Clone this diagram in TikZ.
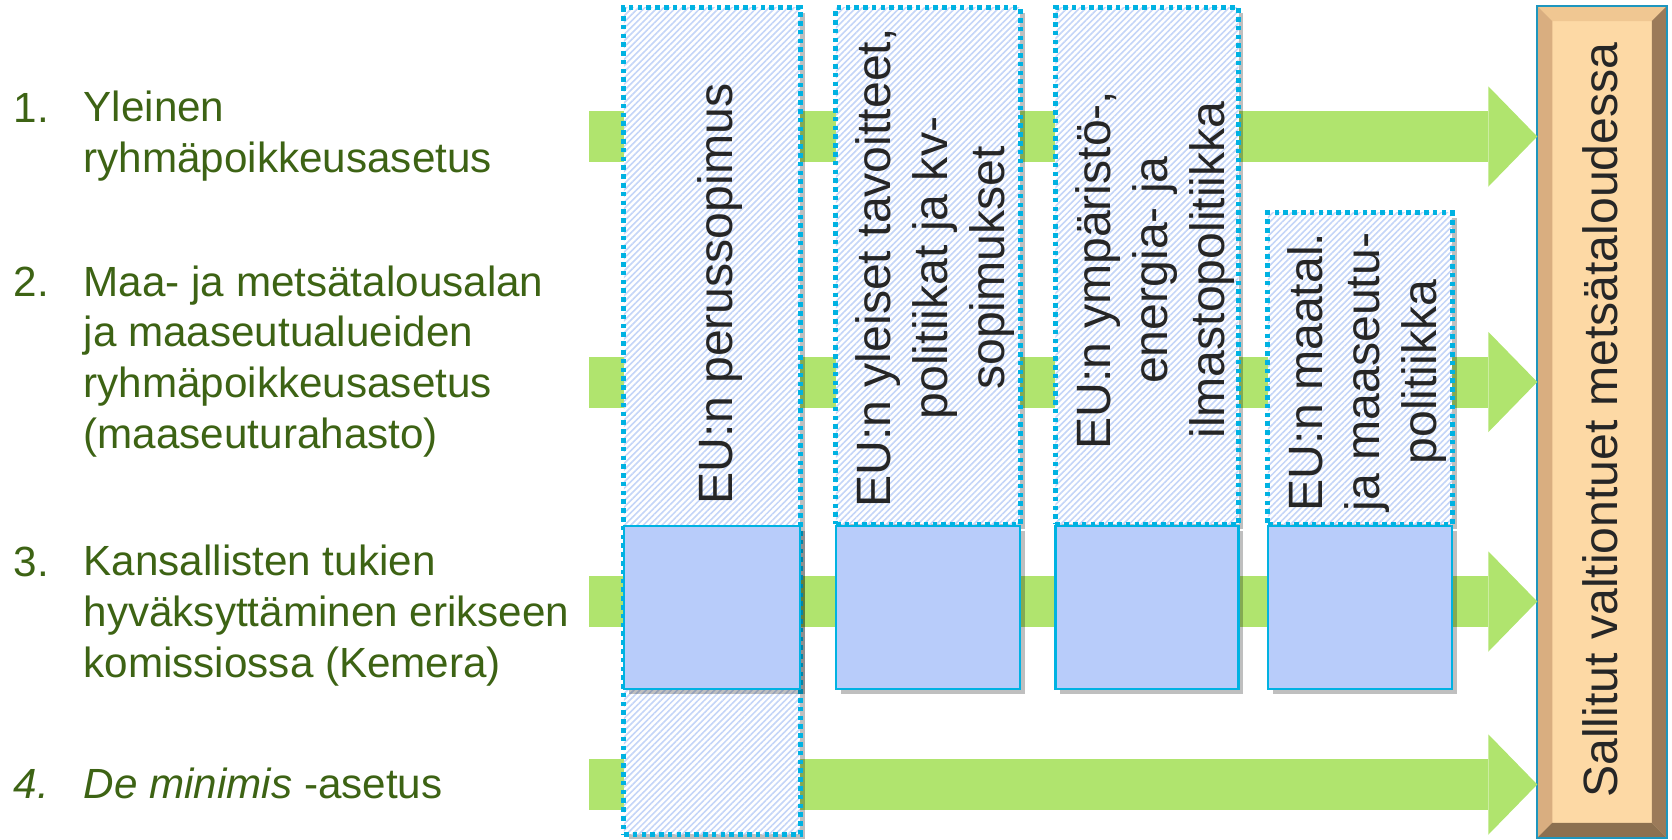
\documentclass[tikz,border=0pt]{standalone}
\usepackage{fontspec}
\setmainfont{Liberation Sans}
\usetikzlibrary{arrows.meta,patterns.meta,shadows}

\definecolor{arrowgreen}{RGB}{176,228,110}
\definecolor{labelgreen}{RGB}{61,99,20}
\definecolor{textgray}{RGB}{38,38,38}
\definecolor{dotcyan}{RGB}{0,178,226}
\definecolor{hatchblue}{RGB}{196,213,248}
\definecolor{boxblue}{RGB}{184,204,250}
\definecolor{woodface}{RGB}{253,217,165}
\definecolor{woodtop}{RGB}{240,199,146}
\definecolor{woodleft}{RGB}{217,174,128}
\definecolor{woodright}{RGB}{155,122,89}
\definecolor{woodbottom}{RGB}{140,112,80}
\definecolor{woodedge}{RGB}{30,150,190}

\tikzset{
  bigarrow/.style={draw=arrowgreen, line width=14.5pt, -{Triangle[length=13.9pt, width=28.5pt, line width=0pt]}},
  colbox/.style={drop shadow={shadow xshift=1.4pt, shadow yshift=-1.4pt, opacity=0.25, fill=black},
    preaction={fill=white}, draw=dotcyan, line width=1.4pt, dash pattern=on 1.3pt off 1.2pt,
    pattern={Lines[angle=45, distance=1.25pt, line width=0.45pt]}, pattern color=hatchblue, inner sep=0pt},
  solidbox/.style={drop shadow={shadow xshift=1.4pt, shadow yshift=-1.4pt, opacity=0.25, fill=black},
    fill=boxblue, draw=dotcyan, line width=0.8pt, minimum height=1.63cm, inner sep=0pt},
  coltext/.style={rotate=90, align=center, text=textgray, font=\fontsize{13.7}{16.2}\selectfont, inner sep=0pt},
  itemnum/.style={anchor=base west, inner sep=0pt, text=labelgreen, font=\fontsize{12}{14.4}\selectfont},
  itemtext/.style={itemnum, align=left}
}

\begin{document}
\begin{tikzpicture}[x=0.01cm, y=-0.01cm]
		\useasboundingbox (0,0) rectangle (1672,839);

		% target box
		\node[fill=woodface, minimum width=1.28cm, minimum height=8.30cm, inner sep=0pt] (allowed) at (1602,422) {};
		\fill[woodtop] (allowed.north west) -- (allowed.north east) -- ([shift={(-15,15)}]allowed.north east) -- ([shift={(15,15)}]allowed.north west) -- cycle;
		\fill[woodleft] (allowed.north west) -- ([shift={(15,15)}]allowed.north west) -- ([shift={(15,-15)}]allowed.south west) -- (allowed.south west) -- cycle;
		\fill[woodright] (allowed.north east) -- ([shift={(-15,15)}]allowed.north east) -- ([shift={(-15,-15)}]allowed.south east) -- (allowed.south east) -- cycle;
		\fill[woodbottom] (allowed.south west) -- ([shift={(15,-15)}]allowed.south west) -- ([shift={(-15,-15)}]allowed.south east) -- (allowed.south east) -- cycle;
		\draw[woodedge, line width=0.6pt] (allowed.north west) rectangle (allowed.south east);
		\node[rotate=90, text=textgray, font=\fontsize{13.7}{16}\selectfont, inner sep=0pt] (allowedtext) at (1600,420) {Sallitut valtiontuet metsätaloudessa};

		% arrows
		\coordinate (s1) at (589,136.5);
		\coordinate (s2) at (589,382);
		\coordinate (s3) at (589,601.5);
		\coordinate (s4) at (589,784.5);
		\draw[bigarrow] (s1) -- (s1 -| allowed.west);
		\draw[bigarrow] (s2) -- (s2 -| allowed.west);
		\draw[bigarrow] (s3) -- (s3 -| allowed.west);
		\draw[bigarrow] (s4) -- (s4 -| allowed.west);

		% columns
		\node[colbox, minimum width=1.76cm, minimum height=8.26cm] (col1) at (712,421) {};
		\node[colbox, minimum width=1.84cm, minimum height=5.16cm] (col2) at (928,266) {};
		\node[colbox, minimum width=1.83cm, minimum height=5.16cm] (col3) at (1147,266) {};
		\node[colbox, minimum width=1.84cm, minimum height=3.11cm] (col4) at (1360,368.5) {};

		\node[solidbox, minimum width=1.76cm] (b1) at (712,607.5) {};
		\node[solidbox, minimum width=1.84cm] (b2) at (928,607.5) {};
		\node[solidbox, minimum width=1.83cm] (b3) at (1147,607.5) {};
		\node[solidbox, minimum width=1.84cm] (b4) at (1360,607.5) {};

		\node[coltext] (t1) at (720,294) {EU:n perussopimus};
		\node[coltext] (t2) at (935,268) {EU:n yleiset tavoitteet,\\politiikat ja kv-\\sopimukset};
		\node[coltext] (t3) at (1155,270) {EU:n ympäristö-,\\energia- ja\\ilmastopolitiikka};
		\node[coltext] (t4) at (1367,372) {EU:n maatal.\\ja maaseutu-\\politiikka};

		% instruments (multi-line nodes sit on their last baseline)
		\node[itemnum] (n1) at (13,122) {1.};
		\node[itemtext] (i1) at (83,172) {Yleinen\\ryhmäpoikkeusasetus};
		\node[itemnum] (n2) at (13,296) {2.};
		\node[itemtext] (i2) at (83,448) {Maa- ja metsätalousalan\\ja maaseutualueiden\\ryhmäpoikkeusasetus\\(maaseuturahasto)};
		\node[itemnum] (n3) at (13,576) {3.};
		\node[itemtext] (i3) at (83,677) {Kansallisten tukien\\hyväksyttäminen erikseen\\komissiossa (Kemera)};
		\node[itemnum] (n4) at (13,798) {\itshape 4.};
		\node[itemtext] (i4) at (83,798) {\itshape De minimis\upshape{} -asetus};
\end{tikzpicture}
\end{document}
